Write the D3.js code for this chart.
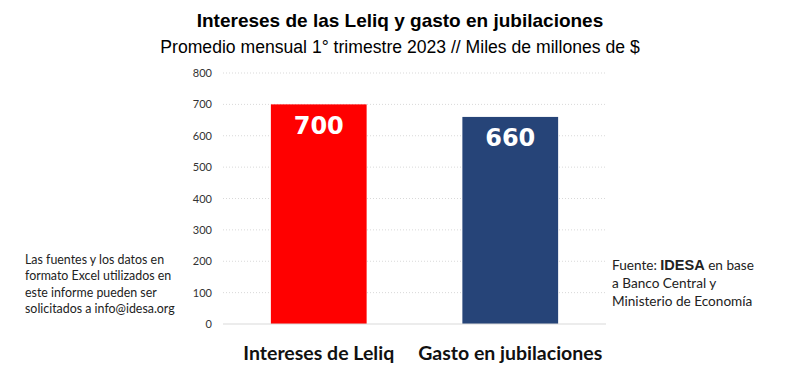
<!DOCTYPE html>
<html><head><meta charset="utf-8">
<script src="https://cdn.jsdelivr.net/npm/d3@7"></script>
<style>body{margin:0;background:#fff;}</style>
</head><body>
<svg id="c" width="800" height="379"></svg>
<script>
const categories = ["Intereses de Leliq", "Gasto en jubilaciones"];
const values = [700, 660];
const colors = ["#ff0000", "#264478"];
const yTicks = [0, 100, 200, 300, 400, 500, 600, 700, 800];
const title = "Intereses de las Leliq y gasto en jubilaciones";
const subtitle = "Promedio mensual 1° trimestre 2023 // Miles de millones de $";
const noteLeft = ["Las fuentes y los datos en", "formato Excel utilizados en", "este informe pueden ser", "solicitados a info@idesa.org"];

const svg = d3.select("#c");
const x = d3.scaleBand().domain(categories).range([223, 606]).paddingInner(0.5).paddingOuter(0.25);
const y = d3.scaleLinear().domain([0, 800]).range([324, 73]);

svg.append("text").attr("x", 400).attr("y", 27).attr("text-anchor", "middle")
  .attr("font-family", "Liberation Sans, Arial").attr("font-weight", "bold").attr("font-size", 19).text(title);
svg.append("text").attr("x", 400).attr("y", 53).attr("text-anchor", "middle")
  .attr("font-family", "Liberation Sans, Arial").attr("font-size", 17.6).text(subtitle);

// gridlines
svg.append("g").selectAll("line").data(yTicks.filter(d => d > 0)).join("line")
  .attr("x1", 223).attr("x2", 606).attr("y1", d => y(d)).attr("y2", d => y(d))
  .attr("stroke", "#d9d9d9").attr("stroke-width", 1).attr("stroke-dasharray", "1,2");

// y axis
const yAxis = d3.axisLeft(y).tickValues(yTicks).tickSize(0).tickPadding(0);
const ga = svg.append("g").attr("transform", "translate(212,0)").call(yAxis);
ga.select(".domain").remove();
ga.selectAll("text").attr("font-family", "Lato, Open Sans, sans-serif").attr("font-size", 11).attr("fill", "#333");

// bars
svg.append("g").selectAll("rect").data(values).join("rect")
  .attr("x", (d, i) => x(categories[i])).attr("width", x.bandwidth())
  .attr("y", d => y(d)).attr("height", d => y(0) - y(d))
  .attr("fill", (d, i) => colors[i]);

// baseline
svg.append("line").attr("x1", 223).attr("x2", 606).attr("y1", y(0)).attr("y2", y(0))
  .attr("stroke", "#d9d9d9").attr("stroke-width", 1);

// value labels
svg.append("g").selectAll("text").data(values).join("text")
  .attr("x", (d, i) => x(categories[i]) + x.bandwidth() / 2)
  .attr("y", d => y(d) + 29.5).attr("text-anchor", "middle")
  .attr("font-family", "DejaVu Sans, Verdana").attr("font-weight", "bold").attr("font-size", 24)
  .attr("fill", "#fff").text(d => d);

// category labels
svg.append("g").selectAll("text").data(categories).join("text")
  .attr("x", d => x(d) + x.bandwidth() / 2).attr("y", 360).attr("text-anchor", "middle")
  .attr("font-family", "Lato, Open Sans, sans-serif").attr("font-weight", "bold").attr("font-size", 19.5)
  .attr("fill", "#111").text(d => d);

// notes
const nl = svg.append("text").attr("font-family", "Lato, Open Sans, sans-serif").attr("font-size", 12.4).attr("fill", "#222");
noteLeft.forEach((t, i) => nl.append("tspan").attr("x", 25).attr("y", 264 + i * 16.3).text(t));

const nr = svg.append("text").attr("font-family", "Lato, Open Sans, sans-serif").attr("font-size", 13.6).attr("fill", "#222");
const l1 = nr.append("tspan").attr("x", 612).attr("y", 270);
l1.append("tspan").text("Fuente: ");
l1.append("tspan").attr("font-family", "Liberation Sans, Arial").attr("font-weight", "bold").attr("font-size", 14.5).text("IDESA");
l1.append("tspan").text(" en base");
nr.append("tspan").attr("x", 612).attr("y", 288).text("a Banco Central y");
nr.append("tspan").attr("x", 612).attr("y", 306).text("Ministerio de Economía");
</script>
</body></html>
